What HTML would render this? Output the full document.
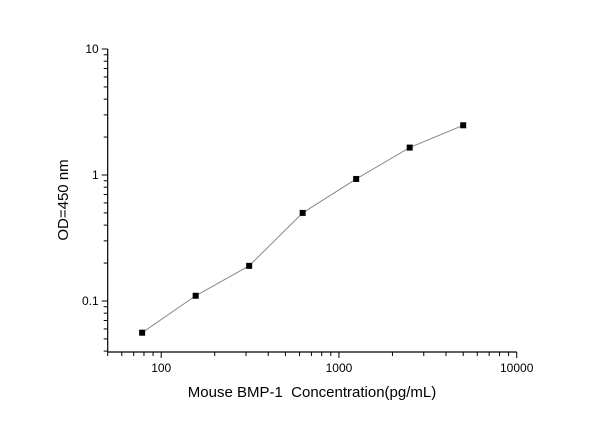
<!DOCTYPE html>
<html><head><meta charset="utf-8"><style>
body{margin:0;background:#fff;width:600px;height:421px;overflow:hidden}
text{font-family:"Liberation Sans",Arial,sans-serif;fill:#000;white-space:pre}
</style></head><body>
<svg id="chart" width="600" height="421" viewBox="0 0 600 421" xmlns="http://www.w3.org/2000/svg"></svg>
<script>
const concentrations=[78.125,156.25,312.5,625,1250,2500,5000];
const odValues=[0.056,0.11,0.19,0.50,0.93,1.65,2.48];
const xTickValues=[100,1000,10000];
const xTickLabels=["100","1000","10000"];
const yTickValues=[0.1,1,10];
const yTickLabels=["0.1","1","10"];
const NS="http://www.w3.org/2000/svg";
const svg=document.getElementById('chart');
const X0=107.7,X1=516.7,XL0=Math.log10(50),XL1=4;
const Y0=352,Y1=49,YL0=-1.405,YL1=1;
function xs(v){return X0+(Math.log10(v)-XL0)/(XL1-XL0)*(X1-X0);}
function ys(v){return Y0-(Math.log10(v)-YL0)/(YL1-YL0)*(Y0-Y1);}
function el(t,a,p){const e=document.createElementNS(NS,t);for(const k in a)e.setAttribute(k,a[k]);(p||svg).appendChild(e);return e;}
const axes=el('g',{});


const xa=el('line',{x1:X0,y1:Y0,x2:X1,y2:Y0,stroke:'#000','stroke-width':1.2},axes);


const ya=el('line',{x1:X0,y1:Y0,x2:X0,y2:Y1,stroke:'#000','stroke-width':1.2},axes);


for(let d=10;d<=1000;d*=10){for(let m=1;m<=9;m++){const v=d*m;if(v<50||v>10000)continue;const x=xs(v);const major=(m===1);el('line',{x1:x,y1:Y0,x2:x,y2:Y0+(major?6:4),stroke:'#000','stroke-width':1},axes);}}
el('line',{x1:xs(10000),y1:Y0,x2:xs(10000),y2:Y0+6,stroke:'#000','stroke-width':1},axes);
for(let d=0.01;d<=1;d*=10){for(let m=1;m<=9;m++){const v=d*m;if(Math.log10(v)<YL0||v>10)continue;const y=ys(v);el('line',{x1:X0,y1:y,x2:X0-(m===1?6:4),y2:y,stroke:'#000','stroke-width':1},axes);}}
el('line',{x1:X0,y1:ys(10),x2:X0-6,y2:ys(10),stroke:'#000','stroke-width':1},axes);
xTickValues.forEach((v,i)=>{const t=el('text',{x:xs(v),y:Y0+20,'text-anchor':'middle','font-size':12},axes);t.textContent=xTickLabels[i];

});
yTickValues.forEach((v,i)=>{const t=el('text',{x:X0-9,y:ys(v)+4,'text-anchor':'end','font-size':12},axes);t.textContent=yTickLabels[i];

});
const xt=el('text',{x:312,y:397,'text-anchor':'middle','font-size':15});xt.textContent='Mouse BMP-1  Concentration(pg/mL)';


const yt=el('text',{x:0,y:0,'text-anchor':'middle','font-size':15,transform:'translate(68,200) rotate(-90)'});yt.textContent='OD=450 nm';


const pts=concentrations.map((c,i)=>xs(c)+','+ys(odValues[i])).join(' ');
const line=el('polyline',{points:pts,fill:'none',stroke:'#888','stroke-width':1});


concentrations.forEach((c,i)=>{const r=el('rect',{x:xs(c)-3,y:ys(odValues[i])-3,width:6,height:6,fill:'#000'});

});
</script>
</body></html>
